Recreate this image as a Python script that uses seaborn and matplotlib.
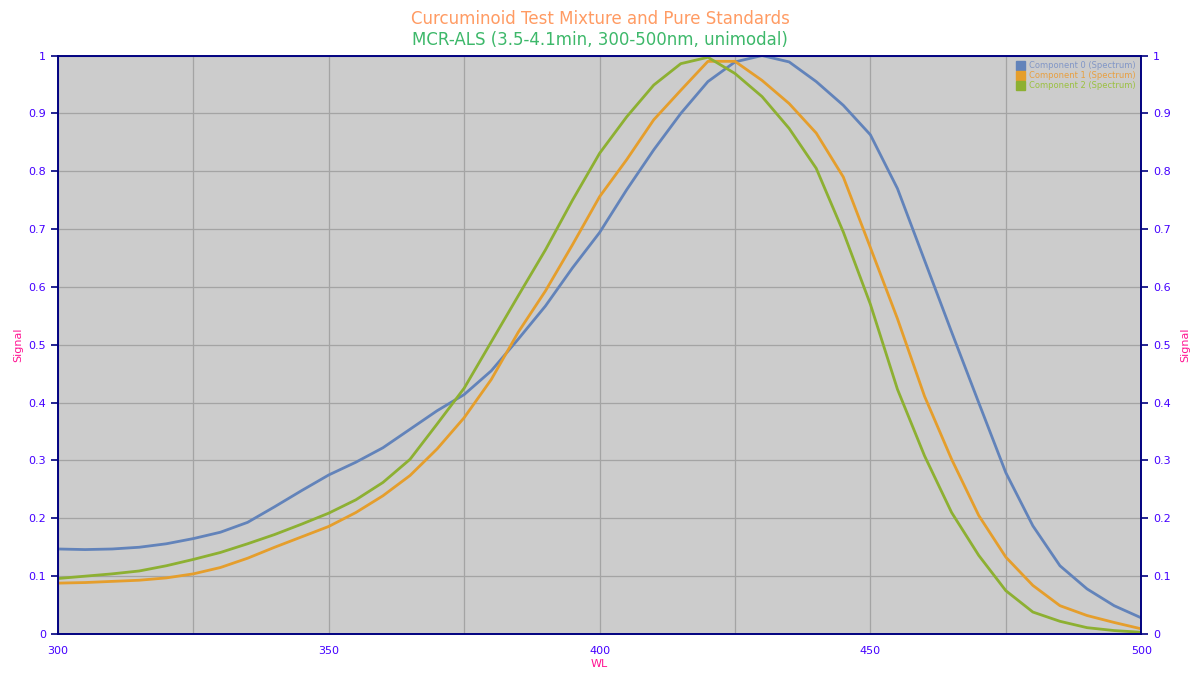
import seaborn as sns
import matplotlib.pyplot as plt
import matplotlib.patches as mpatches
from matplotlib.ticker import MultipleLocator
import pandas as pd
import numpy as np

# wavelength grid (nm) and normalized spectra
wl = list(range(300, 505, 5))

comp0 = [0.147, 0.146, 0.147, 0.150, 0.156, 0.165, 0.176, 0.193, 0.220, 0.248,
         0.275, 0.297, 0.322, 0.354, 0.386, 0.414, 0.455, 0.510, 0.567, 0.633,
         0.694, 0.768, 0.837, 0.900, 0.955, 0.989, 1.000, 0.989, 0.955, 0.914,
         0.863, 0.770, 0.646, 0.522, 0.400, 0.279, 0.187, 0.118, 0.078, 0.049,
         0.028]
comp1 = [0.088, 0.089, 0.091, 0.093, 0.097, 0.104, 0.115, 0.131, 0.150, 0.168,
         0.186, 0.210, 0.239, 0.274, 0.320, 0.374, 0.440, 0.522, 0.593, 0.673,
         0.756, 0.820, 0.889, 0.940, 0.990, 0.990, 0.957, 0.917, 0.866, 0.790,
         0.668, 0.545, 0.411, 0.302, 0.205, 0.133, 0.084, 0.049, 0.032, 0.020,
         0.009]
comp2 = [0.096, 0.100, 0.104, 0.109, 0.118, 0.129, 0.141, 0.156, 0.172, 0.190,
         0.209, 0.232, 0.262, 0.302, 0.363, 0.425, 0.505, 0.585, 0.664, 0.750,
         0.831, 0.894, 0.949, 0.986, 0.997, 0.969, 0.929, 0.874, 0.805, 0.695,
         0.570, 0.423, 0.308, 0.210, 0.136, 0.075, 0.038, 0.022, 0.011, 0.006,
         0.003]

names = ["Component 0 (Spectrum)", "Component 1 (Spectrum)", "Component 2 (Spectrum)"]
colors = ["#6283BA", "#E59E2C", "#8DB032"]
text_colors = ["#8096C8", "#E8A040", "#9CC040"]

df = pd.concat([
    pd.DataFrame({"WL": wl, "Signal": vals, "Series": name})
    for name, vals in zip(names, [comp0, comp1, comp2])
])

sns.set_style("white")
plt.rcParams["font.family"] = ["DejaVu Sans"]

fig = plt.figure(figsize=(12, 6.75), dpi=100)
ax = fig.add_axes([0.0483, 0.0607, 0.9027, 0.857])
ax.set_facecolor("#CCCCCC")

sns.lineplot(data=df, x="WL", y="Signal", hue="Series",
             palette=dict(zip(names, colors)), linewidth=2.0, ax=ax,
             legend=False)

ax.set_xlim(300, 500)
ax.set_ylim(0, 1)
ax.xaxis.set_major_locator(MultipleLocator(50))
ax.xaxis.set_minor_locator(MultipleLocator(25))
ax.grid(True, which="both", color="#A4A4A4", linewidth=0.9)
ax.set_axisbelow(True)

navy = "#000080"
tick_col = "#4400FF"
pink = "#FF1493"

yticks = np.round(np.arange(0, 1.01, 0.1), 1)
ylabels = ["0" if v == 0 else ("1" if v == 1 else f"{v:g}") for v in yticks]

ax2 = ax.twinx()
for a in (ax, ax2):
    a.set_ylim(0, 1)
    a.set_yticks(yticks)
    a.set_yticklabels(ylabels)
    for s in a.spines.values():
        s.set_color(navy)
        s.set_linewidth(1.2)
    a.tick_params(axis="both", which="both", direction="out", colors=navy,
                  labelcolor=tick_col, labelsize=8, length=5, width=1.2)

ax.set_xlabel("WL", color=pink, fontsize=8, labelpad=2)
ax.set_ylabel("Signal", color=pink, fontsize=8, labelpad=10)
ax2.set_ylabel("Signal", color=pink, fontsize=8, labelpad=10, rotation=90)
ax2.yaxis.set_label_coords(1.036, 0.5)
ax.yaxis.set_label_coords(-0.032, 0.5)

fig.text(0.5, 0.972, "Curcuminoid Test Mixture and Pure Standards",
         ha="center", va="center", color="#FF9B63", fontsize=12)
fig.text(0.5, 0.941, "MCR-ALS (3.5-4.1min, 300-500nm, unimodal)",
         ha="center", va="center", color="#3DB86A", fontsize=12)

handles = [mpatches.Patch(color=c, label=n) for c, n in zip(colors, names)]
leg = ax2.legend(handles=handles, loc="upper right", fontsize=6, frameon=False,
                 handlelength=1.0, handleheight=1.2, handletextpad=0.5,
                 labelspacing=0.1, borderaxespad=0.3)
for t, c in zip(leg.get_texts(), text_colors):
    t.set_color(c)

fig.savefig("out.png", dpi=100)
plt.close(fig)
